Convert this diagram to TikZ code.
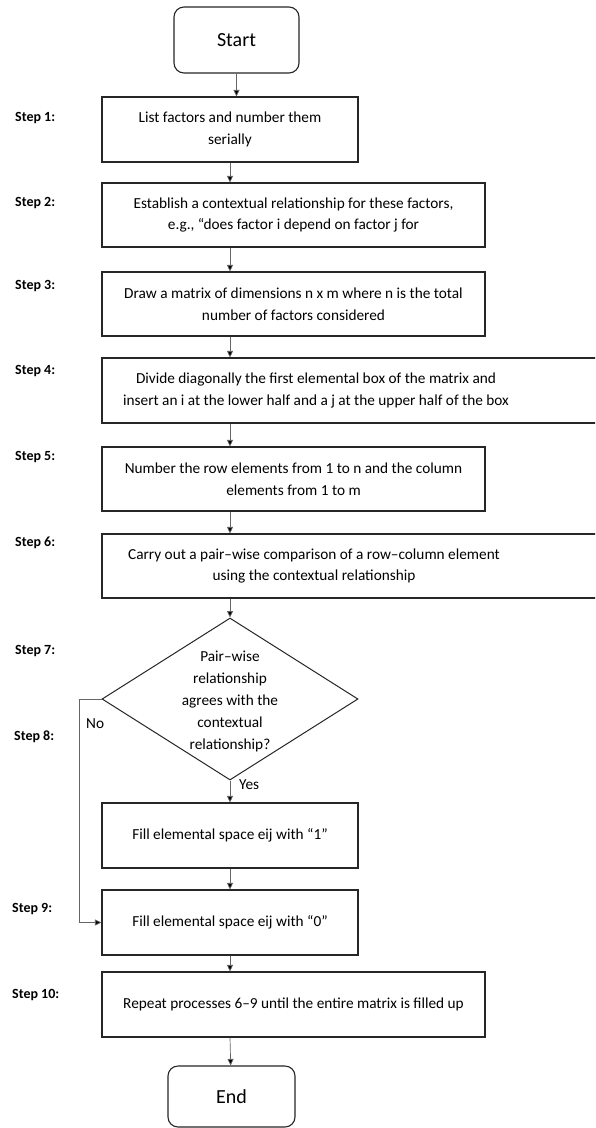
\documentclass[tikz,border=0pt]{standalone}
\usepackage{fontspec}
\setmainfont{Carlito}
\usetikzlibrary{shapes.geometric,arrows.meta}
\begin{document}
\begin{tikzpicture}[x=1pt,y=-1pt,
  box/.style={draw=black!85,line width=1.1pt,rectangle,inner sep=0pt,
    font=\fontsize{15.3}{21.5}\selectfont,align=center},
  boxtext/.style={inner sep=0pt,font=\fontsize{15.3}{21.5}\selectfont,align=center},
  term/.style={draw=black!85,line width=1.1pt,rectangle,rounded corners=10pt,
    inner sep=0pt,font=\fontsize{20}{24}\selectfont},
  decision/.style={draw=black!85,line width=1pt,diamond,inner sep=0pt},
  steplbl/.style={anchor=west,inner sep=0pt,font=\bfseries\fontsize{14}{16}\selectfont},
  answer/.style={anchor=west,inner sep=0pt,font=\fontsize{15.3}{18}\selectfont},
  flow/.style={draw=black!60,line width=0.7pt,-{Triangle[length=6.5pt,width=6pt,fill=black]}},
  ]
\clip (0,0) rectangle (595,1128);
\fill[white] (0,0) rectangle (595,1128);

% main axis of the flow
\coordinate (axis) at (230,0);

% terminals
\node[term,minimum width=125,minimum height=66] (start) at (236.5,40) {Start};
\node[term,minimum width=127,minimum height=61] (end) at (231.5,1096.5) {End};

% process boxes
\node[box,minimum width=256,minimum height=65] (s1) at (230,129.5)
  {List factors and number them\\serially};
\node[box,minimum width=383,minimum height=64] (s2) at (293.5,215)
  {Establish a contextual relationship for these factors,\\e.g., “does factor i depend on factor j for};
\node[box,minimum width=383,minimum height=64] (s3) at (293.5,304)
  {Draw a matrix of dimensions n x m where n is the total\\number of factors considered};
\node[box,minimum width=520,minimum height=65] (s4) at (362,390.5) {};
\node[boxtext] (s4text) at (316,390.5)
  {Divide diagonally the first elemental box of the matrix and\\insert an i at the lower half and a j at the upper half of the box};
\node[box,minimum width=383,minimum height=64] (s5) at (293.5,479)
  {Number the row elements from 1 to n and the column\\elements from 1 to m};
\node[box,minimum width=520,minimum height=64] (s6) at (362,566) {};
\node[boxtext] (s6text) at (314,566)
  {Carry out a pair–wise comparison of a row–column element\\using the contextual relationship};

% decision
\node[decision,minimum width=256,minimum height=162] (d) at (230,699) {};
\node[boxtext,font=\fontsize{15.3}{22}\selectfont] (dtext) at (230,701)
  {Pair–wise\\relationship\\agrees with the\\contextual\\relationship?};

\node[box,minimum width=256,minimum height=65] (f1) at (230,835.5)
  {Fill elemental space eij with “1”};
\node[box,minimum width=256,minimum height=65] (f0) at (230,922.5)
  {Fill elemental space eij with “0”};
\node[box,minimum width=383,minimum height=65] (s10) at (293.5,1004.5)
  {Repeat processes 6–9 until the entire matrix is filled up};

% step labels
\node[steplbl] (l1) at (15,118) {Step 1:};
\node[steplbl] (l2) at (15,203) {Step 2:};
\node[steplbl] (l3) at (15,286) {Step 3:};
\node[steplbl] (l4) at (15,371) {Step 4:};
\node[steplbl] (l5) at (15,457) {Step 5:};
\node[steplbl] (l6) at (15,543) {Step 6:};
\node[steplbl] (l7) at (15,651) {Step 7:};
\node[steplbl] (l8) at (14,737) {Step 8:};
\node[steplbl] (l9) at (12,909) {Step 9:};
\node[steplbl] (l10) at (12,995) {Step 10:};

% connectors
\draw[flow] (start) -- (start |- s1.north);
\draw[flow] (s1) -- (s1 |- s2.north);
\draw[flow] (axis |- s2.south) -- (axis |- s3.north);
\draw[flow] (axis |- s3.south) -- (axis |- s4.north);
\draw[flow] (axis |- s4.south) -- (axis |- s5.north);
\draw[flow] (axis |- s5.south) -- (axis |- s6.north);
\draw[flow] (axis |- s6.south) -- (d.north);
\draw[flow] (d.south) -- (f1.north);
\draw[flow] (f1) -- (f0);
\draw[flow] (f0.south) -- (axis |- s10.north);
\draw[flow] (axis |- s10.south) -- (end);
\draw[flow] (d.west) -- ++(-22,0) |- (f0.west);

% branch labels
\node[answer] (no) at (86,724) {No};
\node[answer] (yes) at (239,785) {Yes};
\end{tikzpicture}
\end{document}
